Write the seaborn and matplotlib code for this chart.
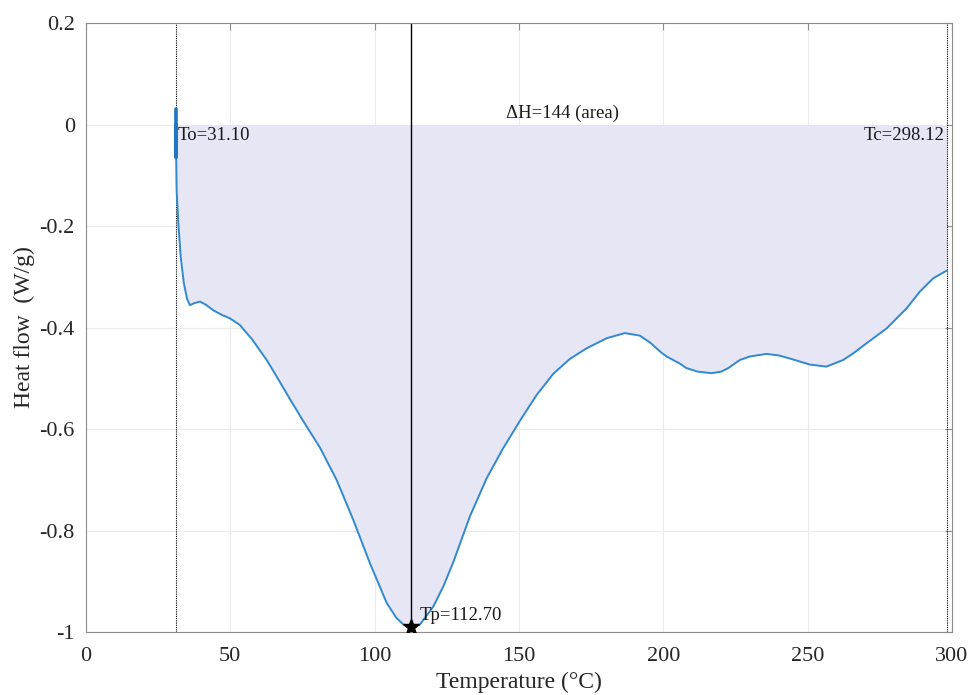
import numpy as np
import pandas as pd
import matplotlib
matplotlib.use("Agg")
import matplotlib.pyplot as plt
from matplotlib.ticker import FixedLocator, FixedFormatter
import seaborn as sns

# DSC heat-flow trace (temperature in °C, heat flow in W/g)
temperature = [31.1, 31.1, 31.1, 31.4, 32.0, 32.8, 33.9, 35.0, 36.0, 37.5,
               39.5, 41.5, 44.1, 47.0, 49.9, 53.3, 57.5, 62.6, 66.0, 69.5,
               75.0, 81.1, 86.8, 92.6, 98.4, 104.2, 107.5, 109.9, 112.7, 115.7,
               120.3, 123.8, 127.2, 133.0, 138.8, 144.5, 150.3, 156.1, 161.9, 167.6,
               173.4, 180.4, 186.7, 191.9, 195.5, 198.8, 201.1, 205.7, 208.0, 212.0,
               216.7, 220.0, 222.5, 226.5, 230.0, 235.8, 240.0, 243.8, 250.8, 256.5,
               262.3, 266.0, 270.4, 277.3, 284.3, 288.9, 293.5, 298.12]
heat_flow = [0.030, -0.065, 0.000, -0.129, -0.195, -0.260, -0.313, -0.343, -0.356, -0.352,
             -0.349, -0.355, -0.366, -0.375, -0.382, -0.395, -0.423, -0.464, -0.496, -0.530,
             -0.582, -0.637, -0.700, -0.779, -0.865, -0.943, -0.972, -0.985, -0.990, -0.985,
             -0.950, -0.910, -0.863, -0.772, -0.697, -0.638, -0.584, -0.533, -0.491, -0.462,
             -0.441, -0.421, -0.411, -0.416, -0.430, -0.447, -0.457, -0.471, -0.480, -0.487,
             -0.490, -0.487, -0.480, -0.464, -0.457, -0.452, -0.455, -0.461, -0.473, -0.477,
             -0.464, -0.450, -0.431, -0.402, -0.362, -0.329, -0.303, -0.288]

onset_T = 31.10
peak_T = 112.70
peak_flow = -0.990
end_T = 298.12
enthalpy = 144

x_ticks = [0, 50, 100, 150, 200, 250, 300]
y_ticks = [-1.0, -0.8, -0.6, -0.4, -0.2, 0.0, 0.2]
y_tick_labels = ["-1", "-0.8", "-0.6", "-0.4", "-0.2", "0", "0.2"]

sns.set_theme(style="whitegrid")
plt.rcParams["font.family"] = ["Liberation Serif", "DejaVu Serif"]

df = pd.DataFrame({"Temperature": temperature, "HeatFlow": heat_flow})

fig = plt.figure(figsize=(9.77, 6.95), dpi=100)
ax = fig.add_axes([0.088, 0.0906, 0.8864, 0.8763])

# shaded area between the trace and the zero baseline
fill_df = df.iloc[2:]
ax.fill_between(fill_df["Temperature"], fill_df["HeatFlow"], 0,
                color="#E6E6F4", linewidth=0, zorder=1)

sns.lineplot(data=df, x="Temperature", y="HeatFlow", sort=False, estimator=None,
             color="#3189D2", linewidth=1.4, ax=ax, zorder=3)
# instrument start-up transient at the onset
ax.plot(temperature[:3], heat_flow[:3], color="#1F77C4", linewidth=2.6, zorder=4)

# onset / end markers and the peak line
ax.axvline(onset_T, color="black", linestyle=(0, (1, 1)), linewidth=0.8, zorder=2)
ax.axvline(end_T, color="black", linestyle=(0, (1, 1)), linewidth=0.8, zorder=2)
ax.axvline(peak_T, color="black", linewidth=1.0, zorder=2)
ax.plot([peak_T], [peak_flow], marker="*", color="black", markersize=12,
        linestyle="none", zorder=5)

ax.text(onset_T + 0.6, -0.005, f"To={onset_T:.2f}", ha="left", va="top",
        fontsize=13.5, color="#1a1a1a")
ax.text(end_T - 0.6, -0.005, f"Tc={end_T:.2f}", ha="right", va="top",
        fontsize=13.5, color="#1a1a1a")
ax.text(165.2, 0.004, f"ΔH={enthalpy} (area)", ha="center", va="bottom",
        fontsize=13.5, color="#1a1a1a")
ax.text(peak_T + 2.8, peak_flow + 0.005, f"Tp={peak_T:.2f}", ha="left", va="bottom",
        fontsize=13.5, color="#1a1a1a")

ax.set_xlim(0, 300)
ax.set_ylim(-1.0, 0.2)
ax.xaxis.set_major_locator(FixedLocator(x_ticks))
ax.set_xticklabels([str(t) for t in x_ticks])
ax.yaxis.set_major_locator(FixedLocator(y_ticks))
ax.yaxis.set_major_formatter(FixedFormatter(y_tick_labels))

ax.set_xlabel("Temperature (°C)", fontsize=17, color="#262626", labelpad=4)
ax.set_ylabel("Heat flow  (W/g)", fontsize=17, color="#262626", labelpad=3)

ax.set_facecolor("white")
ax.grid(True, color="#EBEBEB", linewidth=0.8)
ax.set_axisbelow(True)
for side in ["left", "right", "top", "bottom"]:
    ax.spines[side].set_visible(True)
    ax.spines[side].set_color("#8C8C8C")
    ax.spines[side].set_linewidth(0.8)

ax.tick_params(axis="both", which="major", direction="in", length=5, width=0.8,
               color="#8C8C8C", labelsize=16, labelcolor="#262626",
               top=True, right=True)
ax.tick_params(axis="x", pad=11)
ax.tick_params(axis="y", pad=8)

fig.savefig("out.png", dpi=100)
